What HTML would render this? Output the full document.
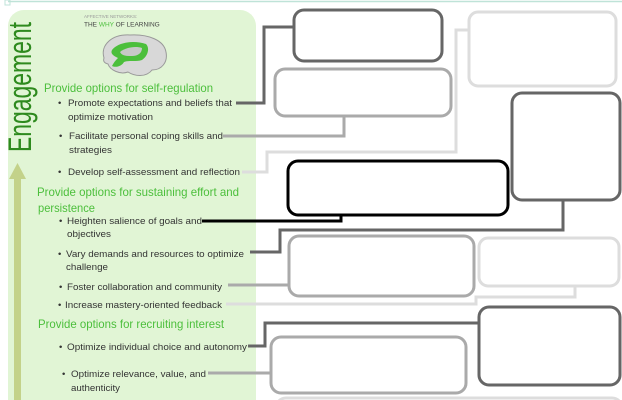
<!DOCTYPE html>
<html><head><meta charset="utf-8"><style>
html,body{margin:0;padding:0;background:#fff;width:622px;height:400px;overflow:hidden}
svg{display:block}
.h{font-family:"Liberation Sans",sans-serif;font-size:12px;fill:#4cbf3c}
.b{font-family:"Liberation Sans",sans-serif;font-size:9.5px;fill:#333}
</style></head><body>
<svg width="622" height="400" viewBox="0 0 622 400" xmlns="http://www.w3.org/2000/svg">
<line x1="8" y1="1.5" x2="622" y2="1.5" stroke="#bfe3d8" stroke-width="1.5"/>
<rect x="5" y="0" width="5" height="5" fill="none" stroke="#bfe3d8"/>
<rect x="8" y="10" width="248" height="410" rx="16" fill="#e1f5d5"/>
<text transform="translate(31,152) rotate(-90)" font-family="Liberation Sans,sans-serif" font-size="32" fill="#2e8a1e" textLength="130" lengthAdjust="spacingAndGlyphs">Engagement</text>
<rect x="14" y="176" width="7" height="230" fill="#c3d28a"/>
<polygon points="17.5,163 9,179 26,179" fill="#c3d28a"/>
<text x="84" y="18" font-family="Liberation Sans,sans-serif" font-size="4.5" fill="#999">AFFECTIVE NETWORKS:</text>
<text x="84" y="26.5" font-family="Liberation Sans,sans-serif" font-size="6.5" fill="#444">THE <tspan fill="#4cbf3c">WHY</tspan> OF LEARNING</text>
<path d="M104,58 C100,45 112,34 130,35 C148,34 164,40 166,52 C168,62 162,70 152,70 C146,78 134,76 128,72 C120,75 110,70 108,64 C104,63 103,61 104,58 Z" fill="#d8d8d8" stroke="#999" stroke-width="1"/>
<path d="M112,50 C118,42 134,40 146,44 C150,48 148,56 142,60 C136,62 130,60 124,62 C122,66 116,68 112,66 C114,62 116,60 118,58 C114,56 110,54 112,50 Z" fill="#4cbf3c"/>
<path d="M120,52 C126,47 136,46 142,48 C142,53 138,56 132,56 C126,56 122,56 120,52 Z" fill="#c8c8c8"/>
<text class="h" x="44" y="92" textLength="169" lengthAdjust="spacingAndGlyphs">Provide options for self-regulation</text>
<text class="b" x="58" y="106">•</text><text class="b" x="68" y="106" textLength="164" lengthAdjust="spacingAndGlyphs">Promote expectations and beliefs that</text>
<text class="b" x="68" y="120" textLength="85" lengthAdjust="spacingAndGlyphs">optimize motivation</text>
<text class="b" x="59" y="139">•</text><text class="b" x="69" y="139" textLength="154" lengthAdjust="spacingAndGlyphs">Facilitate personal coping skills and</text>
<text class="b" x="69" y="153" textLength="43" lengthAdjust="spacingAndGlyphs">strategies</text>
<text class="b" x="58" y="175">•</text><text class="b" x="68" y="175" textLength="172" lengthAdjust="spacingAndGlyphs">Develop self-assessment and reflection</text>
<text class="h" x="37" y="196" textLength="202" lengthAdjust="spacingAndGlyphs">Provide options for sustaining effort and</text>
<text class="h" x="38" y="212" textLength="57" lengthAdjust="spacingAndGlyphs">persistence</text>
<text class="b" x="59" y="224">•</text><text class="b" x="67" y="224" textLength="135" lengthAdjust="spacingAndGlyphs">Heighten salience of goals and</text>
<text class="b" x="67" y="237" textLength="44" lengthAdjust="spacingAndGlyphs">objectives</text>
<text class="b" x="58" y="257">•</text><text class="b" x="66" y="257" textLength="178" lengthAdjust="spacingAndGlyphs">Vary demands and resources to optimize</text>
<text class="b" x="66" y="270" textLength="42" lengthAdjust="spacingAndGlyphs">challenge</text>
<text class="b" x="59" y="290">•</text><text class="b" x="67" y="290" textLength="155" lengthAdjust="spacingAndGlyphs">Foster collaboration and community</text>
<text class="b" x="58" y="308">•</text><text class="b" x="65" y="308" textLength="157" lengthAdjust="spacingAndGlyphs">Increase mastery-oriented feedback</text>
<text class="h" x="38" y="328" textLength="186" lengthAdjust="spacingAndGlyphs">Provide options for recruiting interest</text>
<text class="b" x="59" y="350">•</text><text class="b" x="67" y="350" textLength="180" lengthAdjust="spacingAndGlyphs">Optimize individual choice and autonomy</text>
<text class="b" x="62" y="377">•</text><text class="b" x="71" y="377" textLength="135" lengthAdjust="spacingAndGlyphs">Optimize relevance, value, and</text>
<text class="b" x="71" y="391" textLength="49" lengthAdjust="spacingAndGlyphs">authenticity</text>
<g fill="none" stroke-linejoin="miter">
<polyline points="236,103 264,103 264,27 294,27" stroke="#666" stroke-width="3"/>
<polyline points="223,136 344,136 344,116" stroke="#aaa" stroke-width="3"/>
<polyline points="242,172 267,172 267,152 456,152 456,30 469,30" stroke="#ddd" stroke-width="3"/>
<polyline points="202,221 341,221 341,214" stroke="#000" stroke-width="3"/>
<polyline points="250,252 280,252 280,230 563,230 563,200" stroke="#666" stroke-width="3"/>
<line x1="228" y1="285" x2="290" y2="285" stroke="#aaa" stroke-width="3"/>
<polyline points="226,304 476,304 476,297 575,297 575,286" stroke="#ddd" stroke-width="3"/>
<polyline points="248,346 265,346 265,323 479,323" stroke="#666" stroke-width="3"/>
<line x1="208" y1="373" x2="271" y2="373" stroke="#aaa" stroke-width="3"/>
</g>
<g fill="#fff">
<rect x="294" y="10" width="148" height="51" rx="10" stroke="#666" stroke-width="3"/>
<rect x="275" y="69" width="176" height="47" rx="10" stroke="#aaa" stroke-width="3"/>
<rect x="469" y="12" width="147" height="74" rx="9" stroke="#ddd" stroke-width="3"/>
<rect x="512" y="93" width="108" height="107" rx="10" stroke="#666" stroke-width="3"/>
<rect x="288" y="161" width="220" height="54" rx="10" stroke="#000" stroke-width="3"/>
<rect x="289" y="236" width="185" height="60" rx="10" stroke="#aaa" stroke-width="3"/>
<rect x="479" y="238" width="140" height="48" rx="9" stroke="#ddd" stroke-width="3"/>
<rect x="479" y="307" width="141" height="78" rx="10" stroke="#666" stroke-width="3"/>
<rect x="271" y="337" width="195" height="56" rx="10" stroke="#aaa" stroke-width="3"/>
<rect x="276" y="398" width="346" height="20" rx="10" stroke="#ddd" stroke-width="3"/>
</g>
</svg>
</body></html>
